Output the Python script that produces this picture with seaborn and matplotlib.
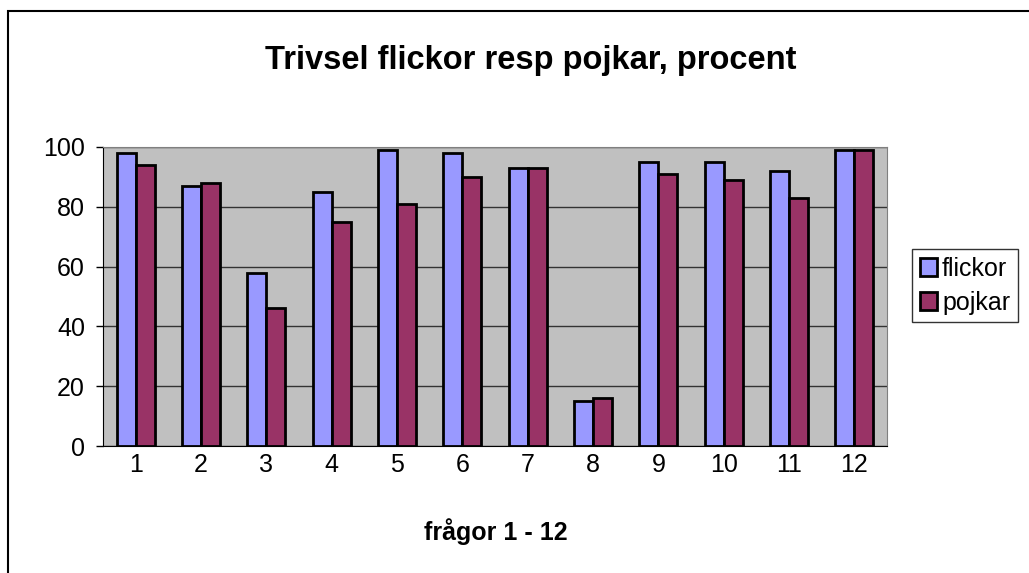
import matplotlib.pyplot as plt
import numpy as np
import pandas as pd
import seaborn as sns

# data
fragor = [str(i) for i in range(1, 13)]
flickor = [98, 87, 58, 85, 99, 98, 93, 15, 95, 95, 92, 99]
pojkar = [94, 88, 46, 75, 81, 90, 93, 16, 91, 89, 83, 99]

df = pd.DataFrame({'fraga': fragor * 2,
                   'procent': flickor + pojkar,
                   'kon': ['flickor'] * 12 + ['pojkar'] * 12})

sns.set_style('white')
plt.rcParams['font.family'] = ['Liberation Sans', 'DejaVu Sans']
plt.rcParams['text.color'] = 'black'
plt.rcParams['xtick.color'] = 'black'
plt.rcParams['ytick.color'] = 'black'
plt.rcParams['axes.labelcolor'] = 'black'

fig = plt.figure(figsize=(10.29, 5.73), dpi=100)
ax = fig.add_axes([0.1001, 0.2216, 0.762, 0.522])
ax.set_facecolor('#C0C0C0')

sns.barplot(data=df, x='fraga', y='procent', hue='kon',
            palette=['#9999FF', '#993366'], width=0.58, gap=0,
            edgecolor='black', linewidth=2, saturation=1, ax=ax, zorder=3)

ax.set_ylim(0, 100)
ax.set_xlim(-0.5, 11.5)
ax.set_yticks([0, 20, 40, 60, 80, 100])
ax.yaxis.grid(True, color='#333333', linewidth=1, zorder=0)
ax.set_axisbelow(True)

ax.set_xticks(np.arange(-0.5, 12, 1), minor=True)
ax.tick_params(axis='x', which='major', length=0, labelsize=18, pad=5)
ax.tick_params(axis='x', which='minor', length=5, width=1, color='black', direction='out')
ax.tick_params(axis='y', length=5, width=1, color='black', direction='out',
               labelsize=18, pad=8, left=True)

for s in ['top', 'right']:
    ax.spines[s].set_color('#808080')
for s in ['left', 'bottom']:
    ax.spines[s].set_color('black')

ax.set_xlabel('')
ax.set_ylabel('')
fig.text(0.4815, 1 - 532 / 573, 'frågor 1 - 12', ha='center', va='center',
         fontsize=18, fontweight='bold')
fig.text(0.5155, 1 - 60 / 573, 'Trivsel flickor resp pojkar, procent', ha='center', va='center',
         fontsize=23.5, fontweight='bold')

leg = ax.legend(loc='upper left', bbox_to_anchor=(912 / 1029, 1 - 249 / 573),
                bbox_transform=fig.transFigure, fontsize=18,
                frameon=True, fancybox=False, edgecolor='black',
                handlelength=0.7, handleheight=0.7, handletextpad=0.2,
                borderpad=0.3, labelspacing=0.4, borderaxespad=0)
leg.get_frame().set_linewidth(1)

# outer border of the chart area (cut by the image edge on right and bottom)
fig.patches.append(plt.Rectangle((8 / 1029, -0.05), 1.1, 1 - 11 / 573 + 0.05,
                                 transform=fig.transFigure,
                                 fill=False, edgecolor='black', linewidth=1.5))

fig.savefig('out.png', dpi=100)
